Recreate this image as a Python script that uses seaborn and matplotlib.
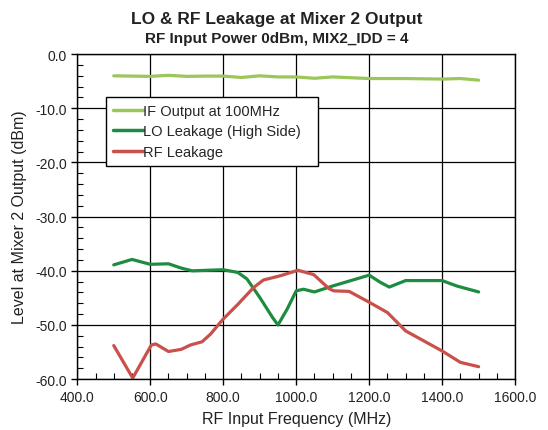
import matplotlib
matplotlib.use("Agg")
import matplotlib.pyplot as plt
import seaborn as sns
import pandas as pd
from matplotlib.ticker import MultipleLocator

# ---- data ----
if_freq = [500, 550, 600, 650, 700, 750, 800, 850, 900, 950, 1000, 1050, 1100,
           1150, 1200, 1250, 1300, 1350, 1400, 1450, 1500]
if_level = [-4.0, -4.05, -4.1, -3.9, -4.1, -4.05, -4.05, -4.3, -4.0, -4.2, -4.2, -4.45, -4.2,
            -4.35, -4.5, -4.5, -4.5, -4.55, -4.6, -4.5, -4.8]

lo_freq = [500, 550, 600, 650, 685, 715, 800, 840, 865, 900, 935, 950, 975, 1000,
           1020, 1050, 1100, 1155, 1200, 1230, 1255, 1300, 1400, 1440, 1500]
lo_level = [-38.9, -37.9, -38.8, -38.7, -39.5, -40.0, -39.8, -40.3, -41.5, -44.9, -48.6,
            -50.0, -47.1, -43.7, -43.4, -43.9, -42.8, -41.7, -40.8, -42.1, -43.0, -41.8,
            -41.8, -42.8, -43.9]

rf_freq = [500, 552, 603, 615, 650, 685, 710, 742, 765, 800, 840, 883, 910, 957, 1005,
           1048, 1090, 1103, 1145, 1200, 1250, 1300, 1400, 1450, 1500]
rf_level = [-53.8, -59.8, -53.7, -53.5, -54.9, -54.5, -53.7, -53.1, -51.7, -48.9, -46.2,
            -43.1, -41.7, -40.9, -39.9, -40.7, -43.3, -43.7, -43.8, -45.8, -47.7, -51.1,
            -54.8, -56.9, -57.7]

series_names = ["IF Output at 100MHz", "LO Leakage (High Side)", "RF Leakage"]
series_colors = ["#9BC65A", "#1E8C40", "#C9504B"]

title = "LO & RF Leakage at Mixer 2 Output"
subtitle = "RF Input Power 0dBm, MIX2_IDD = 4"
xlabel = "RF Input Frequency (MHz)"
ylabel = "Level at Mixer 2 Output (dBm)"

df = pd.concat([
    pd.DataFrame({"freq": if_freq, "level": if_level, "series": series_names[0]}),
    pd.DataFrame({"freq": lo_freq, "level": lo_level, "series": series_names[1]}),
    pd.DataFrame({"freq": rf_freq, "level": rf_level, "series": series_names[2]}),
], ignore_index=True)

sns.set_style("ticks")
plt.rcParams["font.family"] = ["Liberation Sans", "DejaVu Sans"]
plt.rcParams["axes.unicode_minus"] = False

fig = plt.figure(figsize=(5.48, 4.31), dpi=100)
ax = fig.add_axes([0.141, 0.118, 0.799, 0.754])

sns.lineplot(data=df, x="freq", y="level", hue="series", hue_order=series_names,
             palette=dict(zip(series_names, series_colors)), linewidth=2.3,
             sort=True, ax=ax, legend=True)

ax.set_xlim(400, 1600)
ax.set_ylim(-60, 0)
ax.xaxis.set_major_locator(MultipleLocator(200))
ax.xaxis.set_minor_locator(MultipleLocator(50))
ax.yaxis.set_major_locator(MultipleLocator(10))
ax.yaxis.set_minor_locator(MultipleLocator(2))
ax.xaxis.set_major_formatter(matplotlib.ticker.FormatStrFormatter("%.1f"))
ax.yaxis.set_major_formatter(matplotlib.ticker.FormatStrFormatter("%.1f"))
ax.tick_params(axis="both", which="major", direction="out", length=4, width=1,
               color="black", labelsize=10, labelcolor="#222222")
ax.tick_params(axis="both", which="minor", direction="in", length=4, width=0.8,
               color="black")
ax.grid(True, which="major", color="black", linewidth=0.9)
ax.set_axisbelow(True)
for s in ax.spines.values():
    s.set_visible(True)
    s.set_color("black")
    s.set_linewidth(1.0)

ax.set_xlabel(xlabel, fontsize=11.5, color="#222222", labelpad=5)
ax.set_ylabel(ylabel, fontsize=11.5, color="#222222", labelpad=6)

fig.text(0.505, 0.955, title, ha="center", va="center", fontsize=12.5, fontweight="semibold",
         color="#222222")
fig.text(0.505, 0.91, subtitle, ha="center", va="center", fontsize=11, fontweight="semibold",
         color="#222222")

leg = ax.legend(loc="upper left", bbox_to_anchor=(0.066, 0.662, 0.484, 0.206),
                mode="expand", frameon=True,
                fancybox=False, edgecolor="black", framealpha=1, fontsize=10.5,
                handlelength=2.0, handletextpad=0.05, borderpad=0.5,
                labelspacing=0.42, borderaxespad=0)
leg.get_frame().set_linewidth(1.0)
for line in leg.get_lines():
    line.set_linewidth(2.5)

fig.savefig("out.png", dpi=100)
